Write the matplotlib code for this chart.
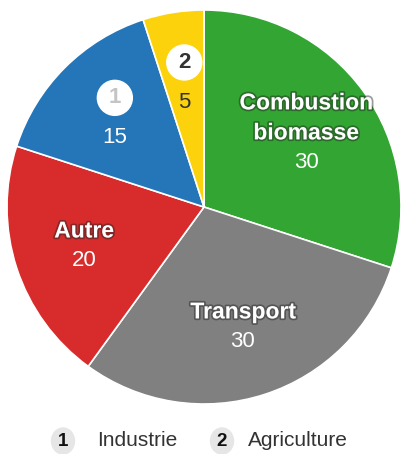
import numpy as np
import matplotlib.pyplot as plt
import matplotlib.patheffects as pe

plt.rcParams['font.family'] = ['Liberation Sans', 'DejaVu Sans']

# data, clockwise from 12 o'clock
labels = ['Combustion\nbiomasse', 'Transport', 'Autre', 'Industrie', 'Agriculture']
values = [30, 30, 20, 15, 5]
colors = ['#33a532', '#808080', '#d82b2b', '#2476b8', '#fcd20c']
badges = [None, None, None, '1', '2']

W, H = 401, 454
fig = plt.figure(figsize=(W / 100, H / 100), dpi=100)
cx, cy, R = 204, 247, 197
ax = fig.add_axes([(cx - R) / W, (cy - R) / H, 2 * R / W, 2 * R / H])

ax.pie(values, colors=colors, startangle=90, counterclock=False, radius=1,
       wedgeprops=dict(edgecolor='white', linewidth=1.2))
# pie() sets its own limits, override after
ax.set_xlim(-1, 1)
ax.set_ylim(-1, 1)
ax.set_aspect('equal')
ax.axis('off')

shadow = [pe.withStroke(linewidth=2.5, foreground='#222222', alpha=0.45)]
step = 30 / R
total = sum(values)
cum = 0
for lab, v, col, b in zip(labels, values, colors, badges):
    mid = (cum + v / 2) / total * 2 * np.pi
    cum += v
    x, y = 0.64 * np.sin(mid), 0.64 * np.cos(mid)
    if b is None:
        lines = lab.split('\n')
        n = len(lines) + 1
        top = y + step * (n - 1) / 2
        for i, ln in enumerate(lines):
            ax.text(x, top - i * step, ln, ha='center', va='center', color='white',
                    fontsize=16.5, fontweight='bold', path_effects=shadow)
        ax.text(x, top - len(lines) * step, str(v), ha='center', va='center',
                color='white', fontsize=16)
    else:
        top = y + 20 / R
        ax.add_patch(plt.Circle((x, top), 17.5 / R, color='white', zorder=3))
        ax.text(x, top, b, ha='center', va='center', zorder=4, fontsize=16,
                fontweight='bold', color='#c4c4c4' if b == '1' else '#333333')
        ax.text(x, y - 20 / R, str(v), ha='center', va='center', fontsize=16,
                color='#333333' if col == '#fcd20c' else 'white')

# legend
leg = [('1', 'Industrie', 63, 97), ('2', 'Agriculture', 222, 248)]
for num, name, bx, tx in leg:
    ly = 1 - 441 / H
    fig.patches.append(plt.Circle((bx / W, ly), 11.5 / W, transform=fig.transFigure,
                                  color='#e6e6e6', figure=fig))
    fig.text(bx / W, ly, num, ha='center', va='center', fontsize=13.5,
             fontweight='bold', color='#111111')
    fig.text(tx / W, ly, name, ha='left', va='center', fontsize=15, color='#333333')

fig.savefig('out.png', dpi=100)
